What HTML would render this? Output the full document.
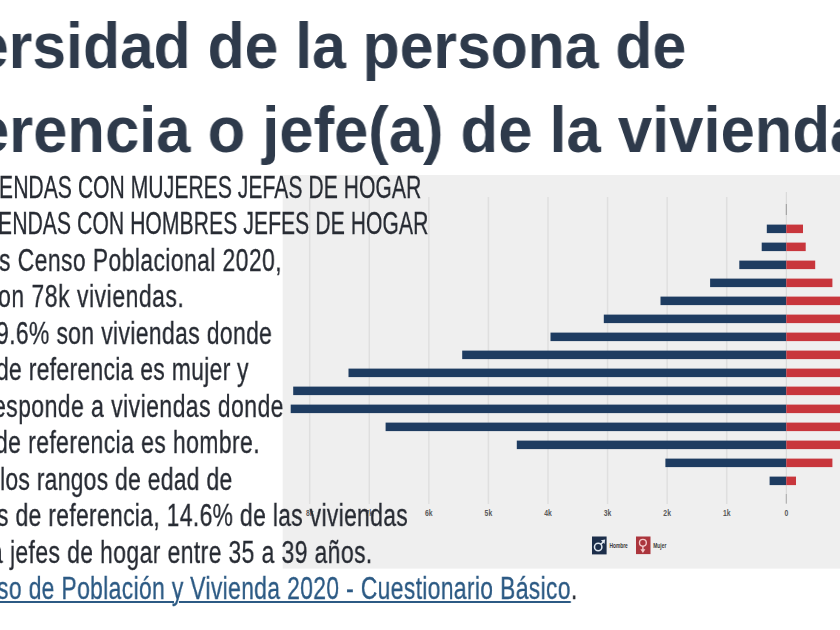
<!DOCTYPE html><html><head><meta charset="utf-8"><style>
html,body{margin:0;padding:0;width:840px;height:630px;overflow:hidden;background:#fff;}
body{position:relative;font-family:"Liberation Sans",sans-serif;}
.t{position:absolute;white-space:nowrap;font-weight:bold;color:#2e3a4b;font-size:64px;line-height:1;transform-origin:0 0;will-change:transform;}
.b{position:absolute;white-space:nowrap;color:#272b33;-webkit-text-stroke:0.3px #272b33;font-size:31px;line-height:1;transform-origin:0 0;will-change:transform;}
.lk{color:#2c5a84;-webkit-text-stroke:0.3px #2c5a84;text-decoration:underline;text-decoration-thickness:1.5px;text-underline-offset:2px;}
svg{position:absolute;left:0;top:0;}
</style></head><body>
<svg width="840" height="630" viewBox="0 0 840 630">
<rect x="282.7" y="175" width="558" height="393.6" fill="#efefef"/>
<line x1="726.72" y1="197" x2="726.72" y2="504" stroke="#dfdfdf" stroke-width="1.5"/>
<line x1="667.15" y1="197" x2="667.15" y2="504" stroke="#dfdfdf" stroke-width="1.5"/>
<line x1="607.57" y1="197" x2="607.57" y2="504" stroke="#dfdfdf" stroke-width="1.5"/>
<line x1="548.00" y1="197" x2="548.00" y2="504" stroke="#dfdfdf" stroke-width="1.5"/>
<line x1="488.42" y1="197" x2="488.42" y2="504" stroke="#dfdfdf" stroke-width="1.5"/>
<line x1="428.85" y1="197" x2="428.85" y2="504" stroke="#dfdfdf" stroke-width="1.5"/>
<line x1="369.27" y1="197" x2="369.27" y2="504" stroke="#dfdfdf" stroke-width="1.5"/>
<line x1="309.70" y1="197" x2="309.70" y2="504" stroke="#dfdfdf" stroke-width="1.5"/>
<line x1="786.3" y1="192" x2="786.3" y2="504" stroke="#d5d5d5" stroke-width="1"/>
<line x1="786.3" y1="204" x2="786.3" y2="215" stroke="#999" stroke-width="1"/>
<line x1="786.3" y1="494" x2="786.3" y2="503.5" stroke="#aaa" stroke-width="1"/>
<rect x="766.8" y="224.60" width="19.50" height="8.5" fill="#1e3c61"/>
<rect x="786.3" y="224.60" width="16.70" height="8.5" fill="#c8363c"/>
<rect x="761.7" y="242.60" width="24.60" height="8.5" fill="#1e3c61"/>
<rect x="786.3" y="242.60" width="19.40" height="8.5" fill="#c8363c"/>
<rect x="739.3" y="260.60" width="47.00" height="8.5" fill="#1e3c61"/>
<rect x="786.3" y="260.60" width="28.90" height="8.5" fill="#c8363c"/>
<rect x="710.1" y="278.60" width="76.20" height="8.5" fill="#1e3c61"/>
<rect x="786.3" y="278.60" width="46.10" height="8.5" fill="#c8363c"/>
<rect x="660.5" y="296.60" width="125.80" height="8.5" fill="#1e3c61"/>
<rect x="786.3" y="296.60" width="73.70" height="8.5" fill="#c8363c"/>
<rect x="603.8" y="314.60" width="182.50" height="8.5" fill="#1e3c61"/>
<rect x="786.3" y="314.60" width="73.70" height="8.5" fill="#c8363c"/>
<rect x="550.5" y="332.60" width="235.80" height="8.5" fill="#1e3c61"/>
<rect x="786.3" y="332.60" width="73.70" height="8.5" fill="#c8363c"/>
<rect x="462.2" y="350.60" width="324.10" height="8.5" fill="#1e3c61"/>
<rect x="786.3" y="350.60" width="73.70" height="8.5" fill="#c8363c"/>
<rect x="348.5" y="368.60" width="437.80" height="8.5" fill="#1e3c61"/>
<rect x="786.3" y="368.60" width="73.70" height="8.5" fill="#c8363c"/>
<rect x="293.2" y="386.60" width="493.10" height="8.5" fill="#1e3c61"/>
<rect x="786.3" y="386.60" width="73.70" height="8.5" fill="#c8363c"/>
<rect x="290.7" y="404.60" width="495.60" height="8.5" fill="#1e3c61"/>
<rect x="786.3" y="404.60" width="73.70" height="8.5" fill="#c8363c"/>
<rect x="385.6" y="422.60" width="400.70" height="8.5" fill="#1e3c61"/>
<rect x="786.3" y="422.60" width="73.70" height="8.5" fill="#c8363c"/>
<rect x="516.8" y="440.60" width="269.50" height="8.5" fill="#1e3c61"/>
<rect x="786.3" y="440.60" width="73.70" height="8.5" fill="#c8363c"/>
<rect x="665.4" y="458.60" width="120.90" height="8.5" fill="#1e3c61"/>
<rect x="786.3" y="458.60" width="46.10" height="8.5" fill="#c8363c"/>
<rect x="769.6" y="476.60" width="16.70" height="8.5" fill="#1e3c61"/>
<rect x="786.3" y="476.60" width="9.70" height="8.5" fill="#c8363c"/>
<text x="786.30" y="516" font-size="9.5" font-weight="bold" fill="#5a5a5a" text-anchor="middle" transform="translate(786.30 0) scale(0.72 1) translate(-786.30 0)">0</text>
<text x="726.72" y="516" font-size="9.5" font-weight="bold" fill="#5a5a5a" text-anchor="middle" transform="translate(726.72 0) scale(0.72 1) translate(-726.72 0)">1k</text>
<text x="667.15" y="516" font-size="9.5" font-weight="bold" fill="#5a5a5a" text-anchor="middle" transform="translate(667.15 0) scale(0.72 1) translate(-667.15 0)">2k</text>
<text x="607.57" y="516" font-size="9.5" font-weight="bold" fill="#5a5a5a" text-anchor="middle" transform="translate(607.57 0) scale(0.72 1) translate(-607.57 0)">3k</text>
<text x="548.00" y="516" font-size="9.5" font-weight="bold" fill="#5a5a5a" text-anchor="middle" transform="translate(548.00 0) scale(0.72 1) translate(-548.00 0)">4k</text>
<text x="488.42" y="516" font-size="9.5" font-weight="bold" fill="#5a5a5a" text-anchor="middle" transform="translate(488.42 0) scale(0.72 1) translate(-488.42 0)">5k</text>
<text x="428.85" y="516" font-size="9.5" font-weight="bold" fill="#5a5a5a" text-anchor="middle" transform="translate(428.85 0) scale(0.72 1) translate(-428.85 0)">6k</text>
<text x="369.27" y="516" font-size="9.5" font-weight="bold" fill="#5a5a5a" text-anchor="middle" transform="translate(369.27 0) scale(0.72 1) translate(-369.27 0)">7k</text>
<text x="309.70" y="516" font-size="9.5" font-weight="bold" fill="#5a5a5a" text-anchor="middle" transform="translate(309.70 0) scale(0.72 1) translate(-309.70 0)">8k</text>
<rect x="592" y="536.5" width="14.6" height="17.9" fill="#1c2e4a"/>
<rect x="636" y="536.5" width="14.5" height="17.6" fill="#ab353c"/>
<text x="609.4" y="547.9" font-size="6.6" font-weight="bold" fill="#3a3a3a" transform="translate(609.4 0) scale(0.74 1) translate(-609.4 0)">Hombre</text>
<text x="653.3" y="547.9" font-size="6.6" font-weight="bold" fill="#3a3a3a" transform="translate(653.3 0) scale(0.74 1) translate(-653.3 0)">Mujer</text>
<circle cx="598.2" cy="547" r="3.7" fill="none" stroke="#dfe7f0" stroke-width="1.5"/>
<path d="M600.8 544.4 L603.4 541.8" fill="none" stroke="#dfe7f0" stroke-width="1.5"/>
<path d="M605.2 539.6 L600.9 540.3 L604.5 543.9 Z" fill="#dfe7f0"/>
<circle cx="642.9" cy="542.8" r="3.4" fill="none" stroke="#f3c9c9" stroke-width="1.4"/>
<path d="M642.9 546.2 L642.9 550" fill="none" stroke="#f3c9c9" stroke-width="1.4"/>
<path d="M640.4 549.3 L645.4 549.3 L642.9 553 Z" fill="#f3c9c9"/>
</svg>

<div class="t" style="left:-24.83px;top:13.72px;letter-spacing:0.000px;transform:scaleX(0.9476)">ersidad de la persona de</div>
<div class="t" style="left:-24.78px;top:97.52px;letter-spacing:0.000px;transform:scaleX(0.9614)">erencia o jefe(a) de la vivienda</div>
<div class="b" style="font-size:32px;left:-1.27px;top:170.81px;letter-spacing:0.047px;transform:scaleX(0.6600)">ENDAS CON MUJERES JEFAS DE HOGAR</div>
<div class="b" style="font-size:32px;left:-1.64px;top:207.33px;letter-spacing:0.102px;transform:scaleX(0.6600)">ENDAS CON HOMBRES JEFES DE HOGAR</div>
<div class="b" style="font-size:31px;left:-1.21px;top:244.70px;letter-spacing:0.543px;transform:scaleX(0.7400)">s Censo Poblacional 2020,</div>
<div class="b" style="font-size:31px;left:-1.98px;top:281.22px;letter-spacing:0.727px;transform:scaleX(0.7400)">on 78k viviendas.</div>
<div class="b" style="font-size:31px;left:-4.29px;top:317.74px;letter-spacing:0.475px;transform:scaleX(0.7400)">9.6% son viviendas donde</div>
<div class="b" style="font-size:31px;left:-4.26px;top:354.26px;letter-spacing:0.383px;transform:scaleX(0.7400)">de referencia es mujer y</div>
<div class="b" style="font-size:31px;left:-6.66px;top:390.78px;letter-spacing:0.628px;transform:scaleX(0.7400)">esponde a viviendas donde</div>
<div class="b" style="font-size:31px;left:-4.65px;top:427.30px;letter-spacing:0.559px;transform:scaleX(0.7400)">de referencia es hombre.</div>
<div class="b" style="font-size:31px;left:-0.45px;top:463.82px;letter-spacing:0.347px;transform:scaleX(0.7400)">los rangos de edad de</div>
<div class="b" style="font-size:31px;left:-2.72px;top:500.34px;letter-spacing:0.413px;transform:scaleX(0.7400)">s de referencia, 14.6% de las viviendas</div>
<div class="b" style="font-size:31px;left:-9.53px;top:536.86px;letter-spacing:0.527px;transform:scaleX(0.7400)">a jefes de hogar entre 35 a 39 años.</div>
<div class="b" style="font-size:31px;left:-2.72px;top:573.38px;letter-spacing:0.433px;transform:scaleX(0.7400)"><span class="lk">so de Población y Vivienda 2020 - Cuestionario Básico</span>.</div>
</body></html>
